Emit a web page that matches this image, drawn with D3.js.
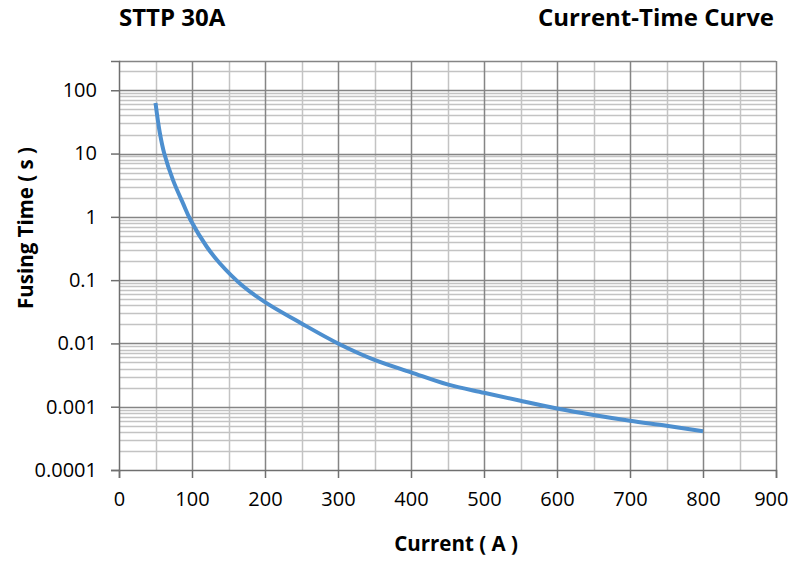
<!DOCTYPE html>
<html>
<head>
  <meta charset="utf-8">
  <title>STTP 30A Current-Time Curve</title>
  <style>
    body { margin: 0; background: #fff; }
    text { font-family: "Open Sans", "Noto Sans", sans-serif; fill: #000; }
  </style>
</head>
<body>
<div id="chart"></div>
<script src="https://d3js.org/d3.v7.min.js"></script>
<script>
  // values
  var currentA = [50, 56, 62, 74, 88, 98, 120, 138, 170, 200, 250, 300, 350, 400, 450, 500, 550, 600, 650, 700, 750, 800];
  var fusingTime = [63, 21, 10, 3.8, 1.6, 0.89, 0.34, 0.185, 0.08, 0.045, 0.0207, 0.01, 0.0055, 0.0035, 0.00225, 0.00166, 0.00124, 0.00094, 0.00074, 0.0006, 0.0005, 0.00041];
  var xTicks = [0, 100, 200, 300, 400, 500, 600, 700, 800, 900];
  var yTicks = [0.0001, 0.001, 0.01, 0.1, 1, 10, 100];
  var yTickLabels = ["0.0001", "0.001", "0.01", "0.1", "1", "10", "100"];

  var W = 790, H = 569;
  var margin = { top: 61, right: 14, bottom: 99, left: 119 };
  var width = W - margin.left - margin.right,
      height = H - margin.top - margin.bottom;

  var MAJOR = "#858585", MINOR = "#c3c3c3", LINE = "#4d8fcf";
  var TICK_FONT = 20, TITLE_FONT = 24, AXIS_TITLE_FONT = 20.5;

  var svg = d3.select("#chart").append("svg")
    .attr("width", W).attr("height", H);
  var g = svg.append("g")
    .attr("transform", "translate(" + margin.left + "," + margin.top + ")");

  var x = d3.scaleLinear().domain([0, 900]).range([0, width]);
  var y = d3.scaleLog().domain([0.0001, 290]).range([height, 0]);

  // horizontal minor grid (2..9 of each decade)
  var minorY = [];
  for (var e = -4; e <= 2; e++) {
    for (var k = 2; k <= 9; k++) {
      var v = k * Math.pow(10, e);
      if (v < 290) minorY.push(v);
    }
  }
  g.append("g").selectAll("line").data(minorY).enter().append("line")
    .attr("x1", 0).attr("x2", width)
    .attr("y1", function (d) { return Math.round(y(d)) + 0.5; })
    .attr("y2", function (d) { return Math.round(y(d)) + 0.5; })
    .attr("stroke", MINOR).attr("stroke-width", 1.3);

  // vertical minor grid at every 50
  var minorX = d3.range(50, 900, 100);
  g.append("g").selectAll("line").data(minorX).enter().append("line")
    .attr("x1", function (d) { return Math.round(x(d)) + 0.5; })
    .attr("x2", function (d) { return Math.round(x(d)) + 0.5; })
    .attr("y1", 0).attr("y2", height)
    .attr("stroke", MINOR).attr("stroke-width", 1.5);

  // major grid
  g.append("g").selectAll("line").data(yTicks.slice(1)).enter().append("line")
    .attr("x1", 0).attr("x2", width)
    .attr("y1", function (d) { return Math.round(y(d)) + 0.5; })
    .attr("y2", function (d) { return Math.round(y(d)) + 0.5; })
    .attr("stroke", MAJOR).attr("stroke-width", 1.5);
  g.append("g").selectAll("line").data(xTicks.slice(1)).enter().append("line")
    .attr("x1", function (d) { return Math.round(x(d)) + 0.5; })
    .attr("x2", function (d) { return Math.round(x(d)) + 0.5; })
    .attr("y1", 0).attr("y2", height)
    .attr("stroke", MAJOR).attr("stroke-width", 1.5);
  // top border
  g.append("line").attr("x1", 0).attr("x2", width).attr("y1", 0.5).attr("y2", 0.5)
    .attr("stroke", MAJOR).attr("stroke-width", 1.5);

  // axes
  var yAxis = g.append("g")
    .call(d3.axisLeft(y).tickValues(yTicks).tickFormat(function (d, i) { return yTickLabels[i]; })
      .tickSize(8).tickPadding(14));
  var xAxis = g.append("g")
    .attr("transform", "translate(0," + height + ")")
    .call(d3.axisBottom(x).tickValues(xTicks).tickSize(8).tickPadding(14));
  [xAxis, yAxis].forEach(function (a) {
    a.attr("font-family", null).attr("font-size", TICK_FONT);
    a.selectAll("path, line").attr("stroke", "#6f6f6f").attr("stroke-width", 1.5);
    a.selectAll("text").attr("fill", "#000");
  });
  // last x label is pulled in so it stays inside the page
  xAxis.selectAll(".tick text").filter(function (d) { return d === 900; })
    .attr("text-anchor", "end").attr("dx", "12");

  // curve
  var pts = currentA.map(function (c, i) { return [c, fusingTime[i]]; });
  g.append("path")
    .datum(pts)
    .attr("fill", "none")
    .attr("stroke", LINE)
    .attr("stroke-width", 4)
    .attr("d", d3.line()
      .x(function (d) { return x(d[0]); })
      .y(function (d) { return y(d[1]); })
      .curve(d3.curveCatmullRom.alpha(0.5)));

  // titles
  svg.append("text").attr("font-weight", "bold").attr("font-size", TITLE_FONT)
    .attr("x", 119).attr("y", 26).text("STTP 30A");
  svg.append("text").attr("font-weight", "bold").attr("font-size", TITLE_FONT)
    .attr("x", 774).attr("y", 26).attr("text-anchor", "end").text("Current-Time Curve");
  svg.append("text").attr("font-weight", "bold").attr("font-size", AXIS_TITLE_FONT)
    .attr("transform", "translate(33,228) rotate(-90)")
    .attr("text-anchor", "middle").text("Fusing Time ( s )");
  svg.append("text").attr("font-weight", "bold").attr("font-size", AXIS_TITLE_FONT)
    .attr("x", 456).attr("y", 551)
    .attr("text-anchor", "middle").text("Current ( A )");
</script>
</body>
</html>
